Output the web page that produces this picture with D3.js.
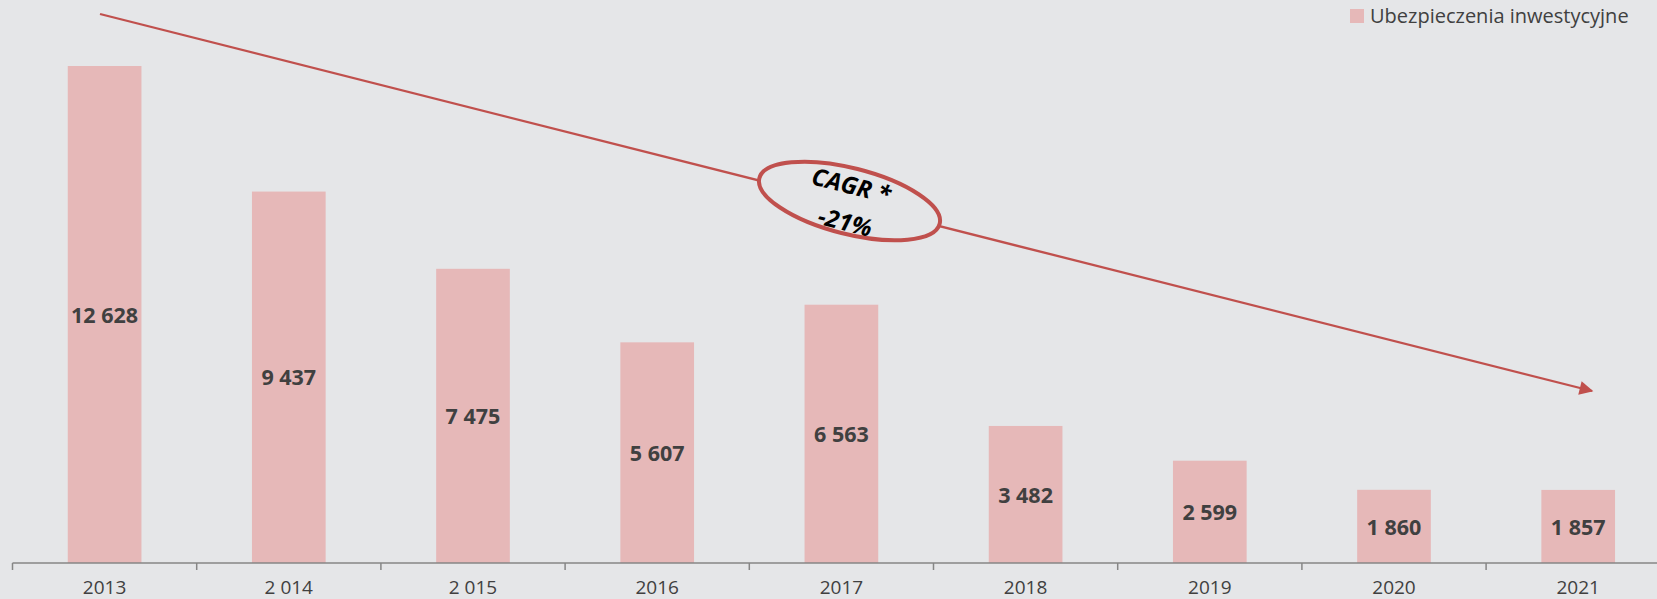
<!DOCTYPE html>
<html>
<head>
<meta charset="utf-8">
<script src="https://cdn.jsdelivr.net/npm/d3@7"></script>
<style>
  body { margin: 0; background: #E5E6E8; }
  svg { display: block; }
</style>
</head>
<body>
<svg id="chart"></svg>
<script>
// data
let years = ['2013', '2 014', '2 015', '2016', '2017', '2018', '2019', '2020', '2021'];
let values = [12628, 9437, 7475, 5607, 6563, 3482, 2599, 1860, 1857];
let seriesName = 'Ubezpieczenia inwestycyjne';
let cagrLines = ['CAGR *', '-21%'];

let svgWidth = 1657;
let svgHeight = 599;
let barColor = '#E6B8B8';
let red = '#C0504D';

let svg = d3.select('#chart')
    .attr('width', svgWidth)
    .attr('height', svgHeight);

let xScale = d3.scaleBand()
    .domain(years)
    .range([12.5, 12.5 + 184.2 * years.length])
    .paddingInner(0.6)
    .paddingOuter(0.3);

let yScale = d3.scaleLinear()
    .domain([0, 14000])
    .range([563, 12]);

// bars
svg.selectAll('rect.bar')
    .data(values)
    .enter()
    .append('rect')
    .attr('class', 'bar')
    .attr('x', (d, i) => xScale(years[i]))
    .attr('y', d => yScale(d))
    .attr('width', xScale.bandwidth())
    .attr('height', d => yScale(0) - yScale(d))
    .attr('fill', barColor);

// value labels in the middle of bars
svg.selectAll('text.val')
    .data(values)
    .enter()
    .append('text')
    .attr('class', 'val')
    .attr('x', (d, i) => xScale(years[i]) + xScale.bandwidth() / 2)
    .attr('y', d => (yScale(d) + yScale(0)) / 2)
    .attr('dy', '0.38em')
    .attr('text-anchor', 'middle')
    .attr('font-family', 'Open Sans, sans-serif')
    .attr('font-weight', 'bold')
    .attr('font-size', 21.5)
    .attr('fill', '#404040')
    .text(d => d3.format(',')(d).replace(/,/g, ' '));

// x axis (ticks between categories)
let axisG = svg.append('g')
    .attr('transform', 'translate(0,' + yScale(0) + ')');

axisG.append('line')
    .attr('x1', xScale.range()[0])
    .attr('x2', svgWidth)
    .attr('stroke', '#868686')
    .attr('stroke-width', 1.5);

let bounds = d3.range(years.length + 1).map(i => xScale.range()[0] + i * xScale.step());
axisG.selectAll('line.tick')
    .data(bounds)
    .enter()
    .append('line')
    .attr('class', 'tick')
    .attr('x1', d => d)
    .attr('x2', d => d)
    .attr('y1', 0)
    .attr('y2', 7)
    .attr('stroke', '#868686')
    .attr('stroke-width', 1.5);

axisG.selectAll('text')
    .data(years)
    .enter()
    .append('text')
    .attr('x', d => xScale(d) + xScale.bandwidth() / 2)
    .attr('y', 31)
    .attr('text-anchor', 'middle')
    .attr('font-family', 'Open Sans, sans-serif')
    .attr('font-size', 19)
    .attr('fill', '#404040')
    .text(d => d);

// legend
let legend = svg.append('g');
legend.append('rect')
    .attr('x', 1350)
    .attr('y', 9)
    .attr('width', 14)
    .attr('height', 14)
    .attr('fill', barColor);
legend.append('text')
    .attr('x', 1370)
    .attr('y', 23)
    .attr('font-family', 'Open Sans, sans-serif')
    .attr('font-size', 20)
    .attr('fill', '#404040')
    .text(seriesName);

// trend arrow
svg.append('defs').append('marker')
    .attr('id', 'arrow')
    .attr('viewBox', '0 0 10 10')
    .attr('refX', 9)
    .attr('refY', 5)
    .attr('markerWidth', 7)
    .attr('markerHeight', 6)
    .attr('markerUnits', 'strokeWidth')
    .attr('orient', 'auto')
    .append('path')
    .attr('d', 'M0,0 L10,5 L0,10 Z')
    .attr('fill', red);

let x1 = 100, y1 = 14, x2 = 1592, y2 = 391;
svg.append('line')
    .attr('x1', x1).attr('y1', y1)
    .attr('x2', x2).attr('y2', y2)
    .attr('stroke', red)
    .attr('stroke-width', 2.3)
    .attr('marker-end', 'url(#arrow)');

// CAGR ellipse
let cx = 849.5, cy = 201;
let angle = Math.atan2(y2 - y1, x2 - x1) * 180 / Math.PI;
let cagr = svg.append('g')
    .attr('transform', 'translate(' + cx + ',' + cy + ') rotate(' + angle + ')');

cagr.append('ellipse')
    .attr('rx', 93)
    .attr('ry', 33)
    .attr('fill', '#E5E6E8')
    .attr('stroke', red)
    .attr('stroke-width', 4);

cagr.selectAll('text')
    .data(cagrLines)
    .enter()
    .append('text')
    .attr('x', (d, i) => i === 0 ? -2 : 1)
    .attr('y', (d, i) => i === 0 ? -7 : 30)
    .attr('text-anchor', 'middle')
    .attr('font-family', 'Open Sans, sans-serif')
    .attr('font-weight', 'bold')
    .attr('font-style', 'italic')
    .attr('font-size', 24)
    .attr('fill', '#000')
    .text(d => d);
</script>
</body>
</html>
